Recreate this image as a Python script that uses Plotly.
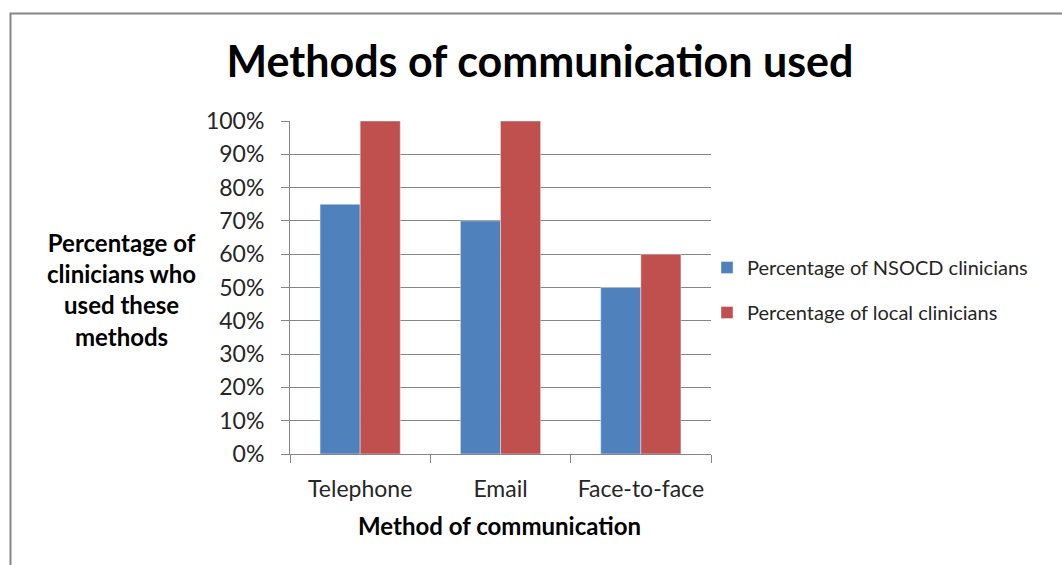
import plotly.graph_objects as go

categories = ["Telephone", "Email", "Face-to-face"]
nsocd = [75, 70, 50]
local = [100, 100, 60]
series_names = ["Percentage of NSOCD clinicians", "Percentage of local clinicians"]
tick_vals = list(range(0, 101, 10))
tick_text = [f"{v}%" for v in tick_vals]

W, H = 1062, 565
FONT = "Lato, Carlito, Calibri, sans-serif"

fig = go.Figure()
fig.add_trace(go.Bar(x=categories, y=nsocd, name=series_names[0], marker_color="#4F81BD",
                     legendgroup="a"))
fig.add_trace(go.Bar(x=categories, y=local, name=series_names[1], marker_color="#C0504D",
                     legendgroup="b"))

fig.update_layout(
    width=W, height=H,
    margin=dict(l=0, r=0, t=0, b=0),
    paper_bgcolor="white", plot_bgcolor="white",
    font=dict(family=FONT, color="#262626"),
    barmode="group", bargap=0.4286, bargroupgap=0,
    title=dict(text="<b>Methods of communication used</b>", x=540/W, xanchor="center",
               y=1-62/H, yanchor="middle", font=dict(size=43, color="black", family=FONT)),
    xaxis=dict(domain=[290/W, 711/W], showline=True, linecolor="#868686", linewidth=1,
               ticks="outside", tickson="boundaries", ticklen=8, tickcolor="#868686",
               tickfont=dict(size=23, color="#262626"), automargin=False, tickangle=0,
               ticklabelstandoff=14),
    yaxis=dict(domain=[1-454/H, 1-121/H], range=[0, 100], tickvals=tick_vals, ticktext=tick_text,
               showline=True, linecolor="#868686", linewidth=1, ticks="outside", ticklen=8,
               tickcolor="#868686", showgrid=True, gridcolor="#868686", gridwidth=1,
               tickfont=dict(size=23, color="#262626"), zeroline=False, automargin=False,
               ticklabelstandoff=12),
    legend=dict(x=707/W, xanchor="left", y=1-290/H, yanchor="middle", traceorder="grouped",
                tracegroupgap=16, font=dict(size=20, color="#262626"), bgcolor="rgba(0,0,0,0)"),
    showlegend=True,
)

fig.add_annotation(text="<b>Method of communication</b>", xref="paper", yref="paper",
                   x=500/W, y=1-525/H, xanchor="center", yanchor="middle", showarrow=False,
                   font=dict(size=24, color="black", family=FONT))

fig.add_annotation(text="<b>Percentage of<br>clinicians who<br>used these<br>methods</b>",
                   xref="paper", yref="paper", x=121/W, y=1-289/H, xanchor="center",
                   yanchor="middle", showarrow=False, align="center",
                   font=dict(size=24, color="black", family=FONT))

fig.add_shape(type="rect", xref="paper", yref="paper", x0=10.5/W, y0=-0.05, x1=1.05, y1=1-13.5/H,
              line=dict(color="#868686", width=2), fillcolor="rgba(0,0,0,0)", layer="below")

fig.write_html("out.html")
